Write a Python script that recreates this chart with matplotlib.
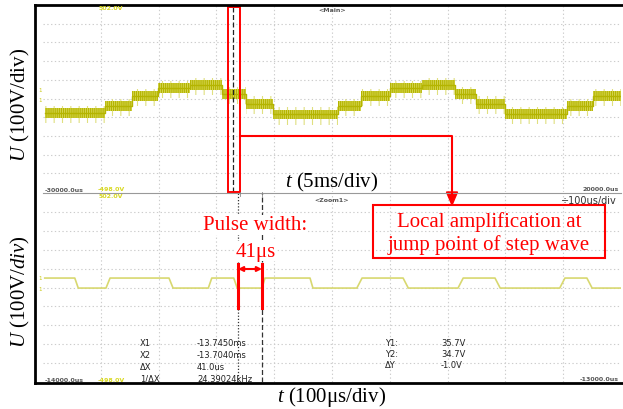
import numpy as np
import matplotlib
matplotlib.use("Agg")
import matplotlib.pyplot as plt
from matplotlib.lines import Line2D
from matplotlib.patches import Rectangle, FancyArrowPatch, Polygon

plt.rcParams["mathtext.fontset"] = "custom"
plt.rcParams["mathtext.it"] = "Liberation Serif:italic"
plt.rcParams["mathtext.rm"] = "Liberation Serif"
plt.rcParams["hatch.linewidth"] = 0.8

# main window: step wave, time in ms, level in V
main_edges = [-29.83, -24.64, -22.30, -20.05, -17.28, -14.52, -12.44, -10.10,
              -4.48, -2.49, 0.02, 2.79, 5.64, 7.46, 9.97, 15.33, 17.58, 20.0]
main_levels = [-78, -40, 13, 56, 72, 24, -29, -85,
               -40, 13, 56, 72, 24, -29, -83, -40, 13]

# zoom window: pwm pulse train, time in us, level in V (corner points)
zoom_t = [-13997, -13945, -13939, -13891, -13884, -13782, -13775, -13714, -13708,
          -13670, -13664, -13621, -13616, -13538, -13533, -13457, -13448,
          -13377, -13368, -13282, -13273, -13218, -13209, -13106, -13097,
          -13059, -13050, -13000]
zoom_v = [50, 50, -3, -3, 50, 50, -3, -3, 50,
          50, -3, -3, 50, 50, -3, -3, 50,
          50, -3, -3, 50, 50, -3, -3, 50,
          50, -3, -3]

cursor_main = -13.56
cursor_zoom = [-13663, -13621]

readout_left = [("X1", "-13.7450ms"), ("X2", "-13.7040ms"),
                ("ΔX", "41.0us"), ("1/ΔX", "24.39024kHz")]
readout_right = [("Y1:", "35.7V"), ("Y2:", "34.7V"), ("ΔY", "-1.0V")]

W, H = 623, 410
SERIF = ["Liberation Serif", "DejaVu Serif"]
RED = "#ff0000"
YEL = "#b4b400"
GRID = "#cccccc"


def px(x, y):
    return x / W, 1 - y / H


fig = plt.figure(figsize=(W / 100, H / 100), dpi=100)
fig.patch.set_facecolor("white")

ax1 = fig.add_axes([43 / W, 1 - 193 / H, 578 / W, 187 / H])
ax2 = fig.add_axes([43 / W, 1 - 383 / H, 578 / W, 189 / H])
ax1.set_xlim(-30, 20)
ax2.set_xlim(-14000, -13000)
for ax in (ax1, ax2):
    ax.set_ylim(-500, 500)
    ax.axis("off")
    x0, x1 = ax.get_xlim()
    for gx in np.linspace(x0, x1, 11)[1:-1]:
        ax.axvline(gx, color=GRID, lw=0.8, ls=(0, (1.2, 2.2)), zorder=0)
    for gy in np.arange(-400, 401, 100):
        ax.axhline(gy, color=GRID, lw=0.8, ls=(0, (1.2, 2.2)), zorder=0)

# step wave band
lv = np.array(main_levels + [main_levels[-1]])
ax1.fill_between(main_edges, lv - 55, lv + 40, step="post", facecolor="none",
                 edgecolor="#e0e080", hatch="||", lw=0, zorder=2)
ax1.fill_between(main_edges, lv - 25, lv + 25, step="post", facecolor="#d6d650",
                 edgecolor=YEL, hatch="||||||||", lw=0, zorder=3)
ax1.step(main_edges, lv, where="post", color=YEL, lw=1.0, zorder=4)
ax1.axvline(cursor_main, color="#222222", lw=0.9, ls=(0, (4, 2)), zorder=5)

# pulse train
ax2.plot(zoom_t, zoom_v, color="#d8d870", lw=1.2, zorder=3)
ax2.axvline(cursor_zoom[0], color="#333333", lw=0.9, ls=(0, (1, 1.5)), zorder=5)
ax2.axvline(cursor_zoom[1], color="#333333", lw=0.9, ls=(0, (4, 2)), zorder=5)

# outer frame and panel separator
for xs, ys in [((35, 35), (6, 383.5)), ((35, 623), (6, 6)), ((35, 623), (383.5, 383.5))]:
    fig.add_artist(Line2D([px(x, 0)[0] for x in xs], [px(0, y)[1] for y in ys],
                          color="black", lw=2.0, transform=fig.transFigure))
fig.add_artist(Line2D([43 / W, 621 / W], [1 - 193.5 / H] * 2, color="#999999", lw=0.8,
                      transform=fig.transFigure))
for zx in (240, 262):
    fig.add_artist(Line2D([zx / W] * 2, [1 - 193 / H, 1 - 197 / H], color="#888888", lw=0.6,
                          transform=fig.transFigure))

# scope small labels
small = dict(fontsize=4.5, color="#555555", fontweight="bold", transform=fig.transFigure)
fig.text(*px(332, 11), "<Main>", ha="center", va="center", **small)
fig.text(*px(332, 201), "<Zoom1>", ha="center", va="center", **small)
fig.text(*px(45, 191), "-30000.0us", ha="left", va="center", **small)
fig.text(*px(619, 190), "20000.0us", ha="right", va="center", **small)
fig.text(*px(45, 381), "-14000.0us", ha="left", va="center", **small)
fig.text(*px(619, 380), "-13000.0us", ha="right", va="center", **small)
fig.text(*px(617, 201), "÷100us/div", ha="right", va="center", fontsize=7,
         color="#333333", transform=fig.transFigure)
ysmall = dict(fontsize=4.5, color="#d8d820", fontweight="bold", ha="center", va="center",
              transform=fig.transFigure)
fig.text(*px(111, 8), "502.0V", **ysmall)
fig.text(*px(111, 190), "-498.0V", **ysmall)
fig.text(*px(111, 197), "502.0V", **ysmall)
fig.text(*px(111, 381), "-498.0V", **ysmall)
for yy in (90, 101, 278, 290):
    fig.text(*px(40, yy), "1", fontsize=4, color="#c8c814", ha="center", va="center",
             transform=fig.transFigure)

ro = dict(fontsize=6, color="#222222", va="center", ha="left", transform=fig.transFigure)
for i, (k, v) in enumerate(readout_left):
    fig.text(*px(140, 344 + i * 11.7), k, **ro)
    fig.text(*px(197, 344 + i * 11.7), v, **ro)
for i, (k, v) in enumerate(readout_right):
    fig.text(*px(385, 344 + i * 11), k, **ro)
    fig.text(*px(441, 344 + i * 11), v, **ro)

# axis captions
fig.text(*px(20, 105), "$\\mathit{U}$ (100V/div)", rotation=90, ha="center", va="center",
         fontsize=15, family=SERIF, transform=fig.transFigure)
fig.text(*px(20, 292), "$\\mathit{U}$ (100V/$\\mathit{div}$)", rotation=90, ha="center",
         va="center", fontsize=15, family=SERIF, transform=fig.transFigure)
fig.text(*px(332, 182), "$\\mathit{t}$ (5ms/div)", ha="center", va="center",
         fontsize=15, family=SERIF, transform=fig.transFigure)
fig.text(*px(332, 397), "$\\mathit{t}$ (100μs/div)", ha="center", va="center",
         fontsize=15, family=SERIF, transform=fig.transFigure)

# red annotations
fig.add_artist(Rectangle(px(228, 193), 12 / W, 185 / H, fill=False, ec=RED, lw=1.4,
                         transform=fig.transFigure))
fig.add_artist(Line2D([240 / W, 452 / W, 452 / W], [1 - 137 / H, 1 - 137 / H, 1 - 195 / H],
                      color=RED, lw=1.5, transform=fig.transFigure))
fig.add_artist(Polygon([px(446.5, 193), px(457.5, 193), px(452, 206)], closed=True,
                       color=RED, transform=fig.transFigure))
fig.add_artist(Rectangle(px(373, 259), 232 / W, 53 / H, fill=False, ec=RED, lw=1.5,
                         transform=fig.transFigure))
fig.text(*px(489, 222), "Local amplification at", ha="center", va="center", color=RED,
         fontsize=15, family=SERIF, transform=fig.transFigure)
fig.text(*px(489, 245), "jump point of step wave", ha="center", va="center", color=RED,
         fontsize=15, family=SERIF, transform=fig.transFigure)
fig.text(*px(255, 226), "Pulse width:", ha="center", va="center", color=RED,
         fontsize=15, family=SERIF, transform=fig.transFigure,
         bbox=dict(facecolor="white", edgecolor="none", pad=0.3))
fig.text(*px(256, 252), "41μs", ha="center", va="center", color=RED,
         fontsize=15, family=SERIF, transform=fig.transFigure,
         bbox=dict(facecolor="white", edgecolor="none", pad=0.3))
for vx in (238, 262):
    fig.add_artist(Line2D([vx / W] * 2, [1 - 265 / H, 1 - 309 / H], color=RED, lw=2.2,
                          transform=fig.transFigure))
fig.add_artist(FancyArrowPatch(px(238, 270), px(262, 270), arrowstyle="<|-|>",
                               mutation_scale=7, color=RED, lw=1.5, shrinkA=0, shrinkB=0,
                               transform=fig.transFigure))

fig.savefig("out.png", dpi=100)
